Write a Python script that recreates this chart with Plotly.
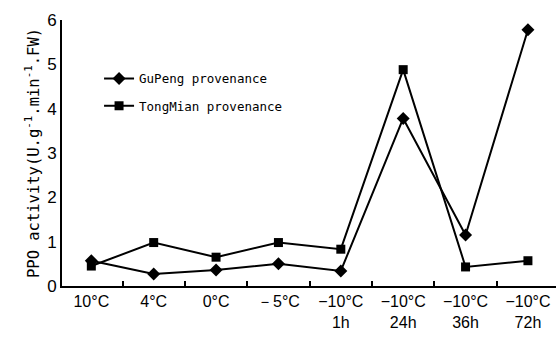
import plotly.graph_objects as go

categories = ["10°C", "4°C", "0°C", "－5°C", "−10°C<br>1h", "−10°C<br>24h", "−10°C<br>36h", "−10°C<br>72h"]
gupeng = [0.57, 0.27, 0.36, 0.50, 0.34, 3.78, 1.15, 5.78]
tongmian = [0.45, 0.98, 0.65, 0.98, 0.83, 4.88, 0.43, 0.57]
yticks = [0, 1, 2, 3, 4, 5, 6]

fig = go.Figure()
fig.add_trace(go.Scatter(x=categories, y=gupeng, mode="lines+markers", name="GuPeng provenance",
                         legendgroup="a",
                         line=dict(color="black", width=2),
                         marker=dict(symbol="diamond", size=10, color="black")))
fig.add_trace(go.Scatter(x=categories, y=tongmian, mode="lines+markers", name="TongMian provenance",
                         legendgroup="b",
                         line=dict(color="black", width=2),
                         marker=dict(symbol="square", size=9, color="black")))

fig.update_layout(
    width=556, height=337,
    margin=dict(l=62, r=0, t=20, b=51),
    paper_bgcolor="white", plot_bgcolor="white",
    showlegend=True,
    legend=dict(x=0.075, y=0.835, xanchor="left", yanchor="top",
                font=dict(family="DejaVu Sans Mono", size=12.5, color="black"),
                bgcolor="rgba(0,0,0,0)", tracegroupgap=8, itemwidth=30),
    xaxis=dict(type="category", range=[-0.47, 7.45], showline=True, linecolor="black", linewidth=2,
               ticks="inside", tickson="boundaries", ticklen=5, tickcolor="black", tickwidth=1.5,
               showgrid=False, zeroline=False,
               tickfont=dict(family="Liberation Sans", size=16, color="black")),
    yaxis=dict(range=[0, 6], tickvals=yticks, showline=True, linecolor="black", linewidth=2,
               ticks="", showgrid=False, zeroline=False,
               tickfont=dict(family="Liberation Sans", size=17, color="black"),
               title=dict(text="PPO activity(U.g<sup>-1</sup>.min<sup>-1</sup>.FW)",
                          font=dict(family="DejaVu Sans Mono", size=15.5, color="black"), standoff=4)),
)

fig.write_html("out.html")
